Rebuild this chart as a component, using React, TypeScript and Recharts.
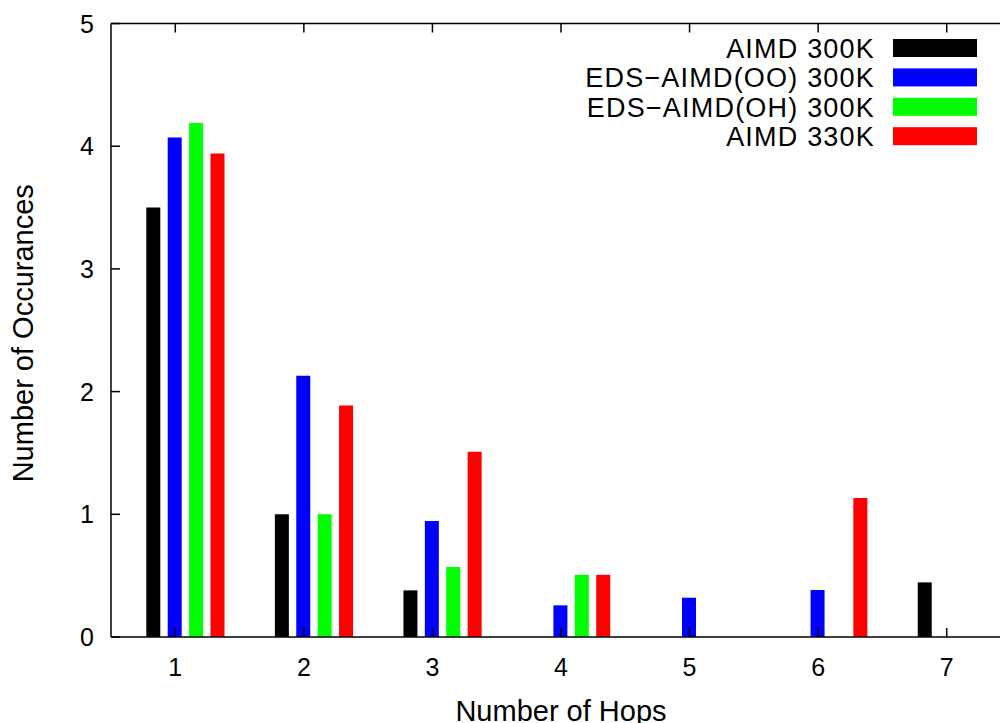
import { BarChart, Bar, XAxis, YAxis, Legend } from 'recharts'

// hop counts on the x axis
const hops = ['1', '2', '3', '4', '5', '6', '7']
const countTicks = [0, 1, 2, 3, 4, 5]

// number of occurances per hop count, one array per run
const aimd300 = [3.5, 1.0, 0.38, 0, 0, 0, 0.445]
const edsOO300 = [4.07, 2.13, 0.945, 0.258, 0.32, 0.383, 0]
const edsOH300 = [4.19, 1.0, 0.57, 0.507, 0, 0, 0]
const aimd330 = [3.94, 1.887, 1.509, 0.507, 0, 1.132, 0]

const seriesKeys = ['aimd300', 'edsOO300', 'edsOH300', 'aimd330']
const seriesNames = ['AIMD 300K', 'EDS\u2212AIMD(OO) 300K', 'EDS\u2212AIMD(OH) 300K', 'AIMD 330K']
const seriesColors = ['#000000', '#0000ff', '#00ff00', '#ff0000']

const data = hops.map((hop, i) => ({
  hop,
  aimd300: aimd300[i],
  edsOO300: edsOO300[i],
  edsOH300: edsOH300[i],
  aimd330: aimd330[i],
}))

const FONT = '"Liberation Sans", Arial, Helvetica, sans-serif'
const TICK_LEN = 9
const Y_TICK_MARGIN = 17
// gnuplot put the boxes so that the second series sits on the tick
const SHIFT = 10.3

function YTick({ x, y, payload }: any) {
  const ax = x + Y_TICK_MARGIN
  return (
    <g>
      <line x1={ax} x2={ax + TICK_LEN} y1={y} y2={y} stroke="#000" strokeWidth={1.5} />
      <text x={x} y={y + 9} textAnchor="end" fontSize={25} fontFamily={FONT} fill="#000">
        {payload.value}
      </text>
    </g>
  )
}

function XTickBottom({ x, y, payload }: any) {
  return (
    <g>
      <line x1={x} x2={x} y1={y} y2={y - TICK_LEN} stroke="#000" strokeWidth={1.5} />
      <text x={x} y={y + 39} textAnchor="middle" fontSize={25} fontFamily={FONT} fill="#000">
        {payload.value}
      </text>
    </g>
  )
}

function XTickTop({ x, y }: any) {
  return <line x1={x} x2={x} y1={y} y2={y + TICK_LEN} stroke="#000" strokeWidth={1.5} />
}

function XTitle({ viewBox }: any) {
  const cx = viewBox.x + (viewBox.width - SHIFT) / 2
  return (
    <text x={cx} y={viewBox.y + 84} textAnchor="middle" fontSize={29} fontFamily={FONT} fill="#000">
      Number of Hops
    </text>
  )
}

function YTitle({ viewBox }: any) {
  const cx = viewBox.x + 23
  const cy = viewBox.y + viewBox.height / 2 + 3
  return (
    <text
      transform={`translate(${cx},${cy}) rotate(-90)`}
      dy={10}
      textAnchor="middle"
      fontSize={29}
      fontFamily={FONT}
      fill="#000"
    >
      Number of Occurances
    </text>
  )
}

function KeyBox({ payload }: any) {
  const items = [...(payload || [])].sort(
    (a: any, b: any) => seriesNames.indexOf(a.value) - seriesNames.indexOf(b.value)
  )
  return (
    <svg width={1000} height={160} style={{ display: 'block' }}>
      {items.map((entry: any, i: number) => {
        const cy = 48 + i * 29.4
        return (
          <g key={entry.value}>
            <text
              x={875}
              y={cy + 9.7}
              textAnchor="end"
              fontSize={27}
              letterSpacing={1.2}
              fontFamily={FONT}
              fill="#000"
            >
              {entry.value}
            </text>
            <rect x={893} y={cy - 9} width={84} height={18} fill={entry.color} />
          </g>
        )
      })}
    </svg>
  )
}

export default function App() {
  return (
    <div
      style={{
        position: 'absolute',
        left: 0,
        top: 0,
        width: 1000,
        height: 723,
        overflow: 'hidden',
        background: '#fff',
      }}
    >
      <BarChart
        width={1030}
        height={723}
        data={data}
        margin={{ top: 0, right: 8.7, bottom: 0, left: 0 }}
        barSize={14}
        barGap={7.4}
      >
        <XAxis
          xAxisId="axis"
          dataKey="hop"
          padding={{ left: 0, right: SHIFT }}
          height={86}
          tickSize={0}
          tickMargin={0}
          interval={0}
          tick={<XTickBottom />}
          axisLine={{ stroke: '#000', strokeWidth: 1.5 }}
          label={<XTitle />}
        />
        <XAxis
          xAxisId="frame"
          orientation="top"
          dataKey="hop"
          padding={{ left: 0, right: SHIFT }}
          height={23.5}
          tickSize={0}
          tickMargin={0}
          interval={0}
          tick={<XTickTop />}
          axisLine={{ stroke: '#000', strokeWidth: 1.5 }}
        />
        <XAxis xAxisId="bars" dataKey="hop" hide height={0} padding={{ left: SHIFT, right: 0 }} />
        <YAxis
          type="number"
          domain={[0, 5]}
          ticks={countTicks}
          allowDataOverflow
          width={111}
          tickSize={0}
          tickMargin={Y_TICK_MARGIN}
          tick={<YTick />}
          axisLine={{ stroke: '#000', strokeWidth: 1.5 }}
          label={<YTitle />}
        />
        <Legend
          layout="vertical"
          align="center"
          verticalAlign="middle"
          wrapperStyle={{ position: 'absolute', left: 0, top: 0, width: 1000, height: 160 }}
          content={<KeyBox />}
        />
        {seriesKeys.map((key, i) => (
          <Bar
            key={key}
            xAxisId="bars"
            dataKey={key}
            name={seriesNames[i]}
            fill={seriesColors[i]}
            isAnimationActive={false}
          />
        ))}
      </BarChart>
    </div>
  )
}
